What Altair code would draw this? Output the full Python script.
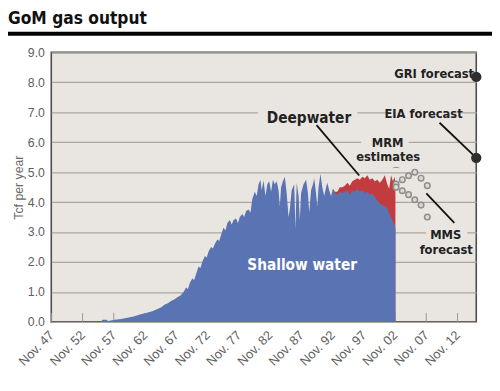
import altair as alt
import pandas as pd

# ---------------- data ----------------
years = [1955.8, 1956.0, 1956.7, 1956.9, 1958.0, 1959.0, 1960.0, 1961.0, 1962.0, 1963.0,
         1964.0, 1965.0, 1965.5, 1966.0, 1966.5, 1967.0, 1967.5, 1968.0, 1968.5, 1969.0,
         1969.4, 1969.7, 1970.0, 1970.4, 1970.7, 1971.0, 1971.4, 1971.7, 1972.0, 1972.4,
         1972.7, 1973.0, 1973.4, 1973.7, 1974.0, 1974.4, 1974.7, 1975.0, 1975.4, 1975.7,
         1976.0, 1976.4, 1976.7, 1977.0, 1977.4, 1977.7, 1978.0, 1978.4, 1978.7, 1979.0,
         1979.4, 1979.7, 1980.0, 1980.4, 1980.7, 1981.0, 1981.3, 1981.5, 1981.8, 1982.1,
         1982.4, 1982.7, 1983.0, 1983.3, 1983.6, 1983.9, 1984.2, 1984.4, 1984.6, 1984.9,
         1985.2, 1985.5, 1985.8, 1986.0, 1986.3, 1986.7, 1986.9, 1987.1, 1987.4, 1987.6,
         1987.8, 1988.2, 1988.6, 1988.9, 1989.1, 1989.4, 1989.7, 1989.9, 1990.2, 1990.4,
         1990.6, 1990.9, 1991.2, 1991.5, 1991.8, 1992.0, 1992.3, 1992.6, 1992.9, 1993.2,
         1993.6, 1994.0, 1994.4, 1994.8, 1995.2, 1995.6, 1996.0, 1996.4, 1996.8, 1997.2,
         1997.6, 1998.0, 1998.4, 1998.8, 1999.2, 1999.6, 2000.0, 2000.4, 2000.8, 2001.2,
         2001.6, 2001.9, 2002.2, 2002.5, 2002.8, 2002.9]

shallow = [0.0, 0.07, 0.07, 0.03, 0.07, 0.10, 0.14, 0.18, 0.25, 0.30,
           0.36, 0.45, 0.50, 0.58, 0.62, 0.70, 0.75, 0.82, 0.88, 1.00,
           1.15, 1.10, 1.30, 1.45, 1.40, 1.60, 1.85, 1.80, 2.00, 2.20,
           2.15, 2.35, 2.50, 2.45, 2.60, 2.75, 2.70, 2.90, 3.15, 3.05,
           3.30, 3.40, 3.25, 3.40, 3.45, 3.30, 3.50, 3.60, 3.50, 3.70,
           3.75, 3.65, 4.10, 4.35, 4.20, 4.60, 4.75, 4.40, 4.72, 4.20,
           4.60, 4.70, 4.35, 4.75, 4.60, 4.70, 4.40, 3.85, 4.50, 4.70,
           4.85, 4.30, 3.50, 3.75, 4.40, 4.60, 3.10, 4.65, 4.20, 3.40,
           4.30, 4.60, 4.75, 4.30, 3.65, 4.40, 4.60, 4.80, 4.30, 3.85,
           4.50, 4.95, 4.50, 4.20, 4.50, 4.65, 4.40, 4.20, 4.45, 4.30,
           4.25, 4.35, 4.30, 4.35, 4.40, 4.25, 4.40, 4.35, 4.45, 4.35,
           4.40, 4.30, 4.35, 4.25, 4.30, 4.15, 4.05, 3.95, 3.90, 3.85,
           3.80, 3.60, 3.50, 3.35, 3.20, 3.10]

deepwater = [0.0] * 98 + [0.0, 0.05,
             0.10, 0.15, 0.20, 0.20, 0.25, 0.30, 0.30, 0.40, 0.35, 0.40,
             0.45, 0.50, 0.55, 0.50, 0.50, 0.55, 0.70, 0.70, 0.85, 1.05,
             0.80, 0.85, 1.40, 1.35, 1.65, 1.30]

mms_years = [2003, 2004, 2005, 2006, 2007, 2008]
mms_high = [4.60, 4.75, 4.88, 5.00, 4.80, 4.55]
mms_low = [4.50, 4.38, 4.25, 4.08, 3.90, 3.50]

forecast_names = ["GRI forecast", "EIA forecast"]
forecast_values = [8.18, 5.48]
forecast_year = 2015.8333

tick_years = [1947, 1952, 1957, 1962, 1967, 1972, 1977, 1982, 1987, 1992, 1997, 2002, 2007, 2012]

# annotation texts (label, year, value)
small_labels = ["GRI forecast", "EIA forecast", "MRM", "estimates", "MMS", "forecast"]
small_x = [2009.1, 2007.4, 2001.66, 2001.74, 2010.95, 2011.03]
small_y = [8.28, 6.95, 5.98, 5.52, 2.89, 2.40]

leader_x = [1990.28, 2009.96, 2007.85]
leader_x2 = [1997.1, 2015.47, 2012.32]
leader_y = [6.57, 6.65, 4.29]
leader_y2 = [4.89, 5.55, 3.31]

# gaps in the grid lines behind the labels (year from, year to, grid value)
gap_x = [1980.9, 2001.35, 1997.4, 2007.8]
gap_x2 = [1996.8, 2013.6, 2005.0, 2014.4]
gap_y = [7.0, 7.0, 6.0, 3.0]

# ---------------- styling ----------------
BG = "#e9e6e1"
BLUE = "#5a74b3"
RED = "#c23b3e"
COND = "DejaVu Sans Condensed, Liberation Sans Narrow, sans-serif"
REG = "Liberation Sans, Arial, sans-serif"

NOV = 10.0 / 12.0
df = pd.DataFrame({"x": years, "shallow": shallow, "deep": deepwater})
ticks_df = pd.DataFrame({"x": [t + NOV for t in tick_years]})
mms_df = pd.DataFrame({"x": mms_years * 2, "v": mms_high + mms_low,
                       "s": ["high"] * 6 + ["low"] * 6})
fc_df = pd.DataFrame({"name": forecast_names, "v": forecast_values,
                      "x": [forecast_year] * 2})
lab_df = pd.DataFrame({"t": small_labels, "x": small_x, "y": small_y})
lead_df = pd.DataFrame({"x": leader_x, "x2": leader_x2, "y": leader_y, "y2": leader_y2})
gap_df = pd.DataFrame({"x": gap_x, "x2": gap_x2, "y": [g - 0.1 for g in gap_y],
                       "y2": [g + 0.1 for g in gap_y]})
deep_lab = pd.DataFrame({"t": ["Deepwater"], "x": [1989.07], "y": [6.82]})
shal_lab = pd.DataFrame({"t": ["Shallow water"], "x": [1987.97], "y": [1.89]})
brace_df = pd.DataFrame({"t": ["⌒"], "x": [2002.92], "y": [5.0]})
title_df = pd.DataFrame({"t": ["GoM gas output"]})

xscale = alt.Scale(domain=[1947 + NOV, 2015 + NOV], nice=False, zero=False)
yscale = alt.Scale(domain=[0, 9], nice=False)

xaxis = alt.Axis(values=[t + NOV for t in tick_years],
                 labelExpr="'Nov. ' + substring(toString(floor(datum.value)), 2)",
                 labelAngle=-45, labelAlign="right", labelBaseline="middle",
                 labelPadding=11, labelColor="#5e5e5e", labelFontSize=13, labelFont=REG,
                 labelOverlap=False, labelFlush=False,
                 grid=False, ticks=False, domain=False, title=None)
yaxis = alt.Axis(values=list(range(10)), format=".1f", grid=True, gridColor="#aba79f",
                 gridWidth=1.4, ticks=False, domain=False, labelColor="#5e5e5e",
                 labelFontSize=12.5, labelFont=REG, labelPadding=7,
                 title="Tcf per year", titleColor="#6a6a6a", titleFontSize=12.5,
                 titleFont=REG, titleFontWeight="normal", titlePadding=2)


def XE(f="x"):
    return alt.X(f"{f}:Q", scale=xscale, axis=xaxis)


def YE(f="y"):
    return alt.Y(f"{f}:Q", scale=yscale, axis=yaxis)


base = alt.Chart(df)

gaps = alt.Chart(gap_df).mark_rect(color=BG, opacity=1).encode(
    x=XE(), x2="x2:Q", y=YE(), y2="y2:Q")

tick_marks = alt.Chart(ticks_df).mark_rule(color="#999", strokeWidth=1).encode(
    x=XE(), y=alt.datum(0, scale=yscale, axis=yaxis), y2=alt.datum(0.3))

red_area = base.transform_calculate(total="datum.shallow + datum.deep").transform_filter(
    "datum.x >= 1992.8").mark_area(color=RED, interpolate="linear").encode(
    x=XE(), y=YE("total"))
blue_area = base.mark_area(color=BLUE, interpolate="linear").encode(x=XE(), y=YE("shallow"))

mms_pts = alt.Chart(mms_df).mark_point(shape="circle", filled=True, fill="#dcd8d2",
                                       stroke="#8e8e8e", strokeWidth=1.5, size=32,
                                       opacity=1).encode(x=XE(), y=YE("v"))

fc_pts = alt.Chart(fc_df).mark_circle(color="#2e2e2e", size=110, opacity=1).encode(
    x=XE(), y=YE("v"))

leaders = alt.Chart(lead_df).mark_rule(color="#111", strokeWidth=1.8).encode(
    x=XE(), x2="x2:Q", y=YE(), y2="y2:Q")


def texts(d, size, color):
    return alt.Chart(d).mark_text(font=COND, fontWeight="bold", fontSize=size, color=color,
                                  baseline="middle", align="center").encode(
        x=XE(), y=YE(), text="t:N")


brace = alt.Chart(brace_df).mark_text(font="DejaVu Sans", fontSize=10, color="#555",
                                      baseline="middle", align="center").encode(
    x=XE(), y=YE(), text="t:N")

title_text = alt.Chart(title_df).mark_text(font=COND, fontWeight="bold", fontSize=17.5,
                                           color="#111", align="left",
                                           baseline="alphabetic").encode(
    x=alt.value(-44), y=alt.value(-29), text="t:N")

title_rule = alt.Chart(title_df).mark_rule(color="#000", strokeWidth=4).encode(
    x=alt.value(-44), x2=alt.value(448), y=alt.value(-19))

layers = [gaps, tick_marks, red_area, blue_area, mms_pts, leaders,
          texts(lab_df, 13, "#222"), texts(deep_lab, 15.5, "#222"),
          texts(shal_lab, 15.5, "#ffffff"), brace, fc_pts, title_text, title_rule]

chart = alt.layer(*layers).properties(
    width=432, height=274,
    autosize=alt.AutoSizeParams(type="none"),
    padding={"left": 44, "top": 42, "right": 16, "bottom": 59},
    background="#ffffff",
).configure_view(fill=BG, stroke="#4d4d4d", strokeWidth=1.6)

chart.save("out.html", embed_options={"renderer": "svg", "actions": False})
